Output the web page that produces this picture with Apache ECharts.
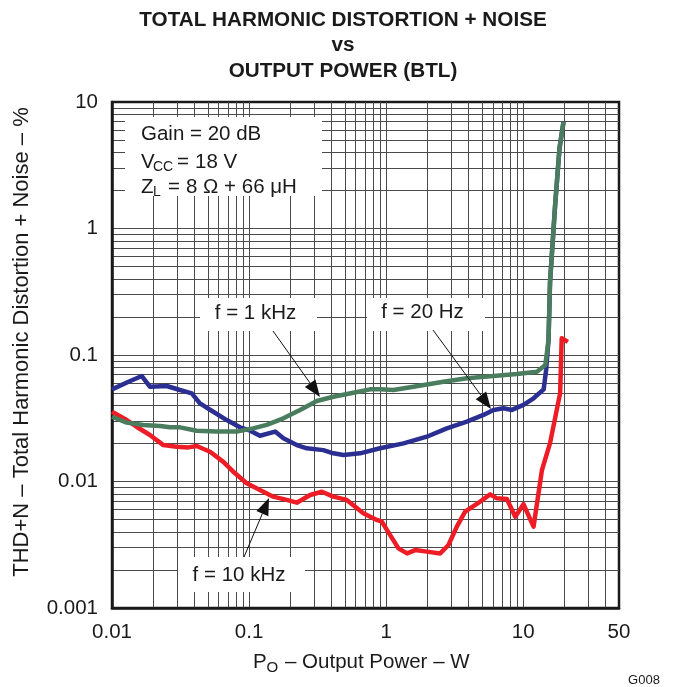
<!DOCTYPE html>
<html><head><meta charset="utf-8">
<script src="https://cdn.jsdelivr.net/npm/echarts@6/dist/echarts.min.js"></script>
<style>html,body{margin:0;padding:0;background:#fff}#c{width:673px;height:687px}</style>
</head><body><div id="c"></div>
<script>
// ---- tick labels ----
const xTickValues = [0.01, 0.1, 1, 10, 50];
const xTickLabels = ['0.01', '0.1', '1', '10', '50'];
const yTickValues = [0.001, 0.01, 0.1, 1, 10];
const yTickLabels = ['0.001', '0.01', '0.1', '1', '10'];

// ---- f = 20 Hz (blue) ----
const p20Hz = [0.01, 0.0132, 0.0165, 0.0189, 0.0251, 0.0313, 0.0382, 0.0438, 0.0548, 0.0687, 0.0859, 0.102, 0.120, 0.155, 0.178, 0.223, 0.264, 0.348, 0.412, 0.488, 0.645, 0.903, 1.34, 1.98, 2.77, 3.88, 5.13, 6.07, 7.18, 8.27, 10.05, 11.9, 14.1, 14.7, 15.3, 15.7, 17.1, 18.4, 19.7];
const thd20Hz = [0.0535, 0.0615, 0.0682, 0.0562, 0.0569, 0.0529, 0.0498, 0.0415, 0.0356, 0.0306, 0.0268, 0.0252, 0.0230, 0.0248, 0.0220, 0.0194, 0.0183, 0.0177, 0.0167, 0.0162, 0.0167, 0.0183, 0.0200, 0.0226, 0.0263, 0.0297, 0.0336, 0.0368, 0.0379, 0.0368, 0.0403, 0.0455, 0.0535, 0.0761, 0.131, 0.379, 1.53, 4.3, 6.99];

// ---- f = 1 kHz (green) ----
const p1kHz = [0.01, 0.0128, 0.0169, 0.0224, 0.0265, 0.0313, 0.0415, 0.058, 0.0813, 0.107, 0.1345, 0.178, 0.2355, 0.312, 0.412, 0.577, 0.764, 0.903, 1.13, 1.58, 2.62, 3.88, 6.07, 8.99, 12.6, 14.5, 15.3, 15.7, 17.1, 18.4, 19.7];
const thd1kHz = [0.0325, 0.0292, 0.0280, 0.0275, 0.0268, 0.0268, 0.0252, 0.0248, 0.0248, 0.0263, 0.0280, 0.0316, 0.0368, 0.0433, 0.0468, 0.0503, 0.0535, 0.0535, 0.0529, 0.0562, 0.0615, 0.0654, 0.0682, 0.0708, 0.0738, 0.0834, 0.131, 0.379, 1.53, 4.3, 6.99];

// ---- f = 10 kHz (red) ----
const p10kHz = [0.01, 0.0128, 0.0151, 0.0189, 0.0237, 0.0296, 0.0361, 0.0415, 0.0519, 0.0649, 0.0767, 0.0961, 0.120, 0.150, 0.188, 0.223, 0.279, 0.340, 0.412, 0.516, 0.682, 0.855, 0.931, 1.07, 1.23, 1.42, 1.63, 1.98, 2.48, 2.85, 3.28, 3.77, 4.59, 5.74, 6.43, 7.60, 8.75, 10.05, 11.9, 13.7, 15.7, 18.6, 19.1, 21.2];
const thd10kHz = [0.0356, 0.0306, 0.0271, 0.0233, 0.0194, 0.0188, 0.0186, 0.0191, 0.0172, 0.0143, 0.01195, 0.00968, 0.00857, 0.00759, 0.00715, 0.0068, 0.00782, 0.0083, 0.00759, 0.00715, 0.00561, 0.00497, 0.00481, 0.00377, 0.00296, 0.0027, 0.00287, 0.00279, 0.0027, 0.00315, 0.0044, 0.00577, 0.00664, 0.00792, 0.00736, 0.00727, 0.00527, 0.00661, 0.0044, 0.0123, 0.0201, 0.050, 0.1355, 0.127];

const FONT = "'Liberation Sans', Arial, Helvetica, sans-serif";
const TXT = '#1a1a1a';

function zip(xs, ys) { return xs.map((x, i) => [x, ys[i]]); }
function gridValues(e0, e1, max) {
  const out = [];
  for (let e = e0; e <= e1; e++) {
    for (let m = 1; m < 10; m++) {
      const v = Number((m * Math.pow(10, e)).toPrecision(6));
      if (v <= max) out.push(v);
    }
  }
  return out;
}
const xGrid = gridValues(-2, 1, 50).filter(v => v > 0.01 && v < 50);
const yGrid = gridValues(-3, 0, 10).filter(v => v > 0.001 && v < 10);

function text(x, y, str, size, opts) {
  opts = opts || {};
  return {
    type: 'text', x: x, y: y, z: 60, rotation: opts.rotation || 0,
    style: {
      text: str, fill: TXT,
      font: (opts.bold ? 'bold ' : '') + size + 'px ' + FONT,
      align: opts.align || 'left', textAlign: opts.align || 'left',
      verticalAlign: 'middle', textVerticalAlign: 'middle'
    }
  };
}
function box(x, y, w, h) {
  return { type: 'rect', z: 55, shape: { x: x, y: y, width: w, height: h }, style: { fill: '#fff' } };
}
function arrow(x1, y1, x2, y2) {
  const dx = x2 - x1, dy = y2 - y1, L = Math.hypot(dx, dy);
  const ux = dx / L, uy = dy / L, px = -uy, py = ux;
  const hl = 17, hw = 6.5;
  const bx = x2 - ux * hl, by = y2 - uy * hl;
  return [
    { type: 'line', z: 60, shape: { x1: x1, y1: y1, x2: bx, y2: by }, style: { stroke: '#111', lineWidth: 1 } },
    { type: 'polygon', z: 60, shape: { points: [[x2, y2], [bx + px * hw, by + py * hw], [bx - px * hw, by - py * hw]] }, style: { fill: '#111' } }
  ];
}

const elements = [
  text(343, 20, 'TOTAL HARMONIC DISTORTION + NOISE', 20.7, { bold: true, align: 'center' }),
  text(343, 45.5, 'vs', 20.7, { bold: true, align: 'center' }),
  text(343, 71, 'OUTPUT POWER (BTL)', 20.7, { bold: true, align: 'center' }),
  // y axis title
  text(22, 342, 'THD+N \u2013 Total Harmonic Distortion + Noise \u2013 %', 22, { align: 'center', rotation: Math.PI / 2 }),
  // x axis title
  text(253, 662, 'P', 20.5),
  text(266.5, 668, 'O', 15),
  text(285, 662, '\u2013 Output Power \u2013 W', 20.5),
  text(644, 680, 'G008', 13, { align: 'center' }),
  // parameter box
  box(125, 117, 197, 79),
  text(141, 134, 'Gain = 20 dB', 20.5),
  text(141, 162, 'V', 20.5),
  text(153, 167.5, 'CC', 14),
  text(177, 162, '=', 20.5),
  text(195, 162, '18 V', 20.5),
  text(141, 187, 'Z', 20.5),
  text(153, 192.5, 'L', 14),
  text(168, 187, '=', 20.5),
  text(186, 187, '8 \u03A9 + 66 \u03BCH', 20.5),
  // series labels
  box(200, 298, 117, 33),
  text(255.5, 313, 'f = 1 kHz', 20.5, { align: 'center' }),
  box(367, 298, 118, 33),
  text(422.5, 312, 'f = 20 Hz', 20.5, { align: 'center' }),
  box(178, 557, 127, 35),
  text(239, 575, 'f = 10 kHz', 20.5, { align: 'center' })
].concat(arrow(273, 331, 320, 397), arrow(433, 330, 491, 409), arrow(244, 557, 269, 498));

const gridLine = { show: true, lineStyle: { color: '#4a4a4a', width: 1 } };

const option = {
  animation: false,
  backgroundColor: '#fff',
  grid: { left: 112, top: 102, width: 507, height: 506, show: true, borderColor: '#1a1a1a', borderWidth: 2.5, backgroundColor: 'transparent', containLabel: false },
  xAxis: {
    type: 'log', logBase: 10, min: 0.01, max: 50,
    axisLine: { show: true, onZero: false, lineStyle: { color: '#1a1a1a', width: 2.5 } },
    axisTick: { show: false, customValues: xGrid },
    splitLine: gridLine,
    minorSplitLine: { show: false },
    axisLabel: {
      customValues: xTickValues, margin: 14, color: TXT, fontSize: 20.5, fontFamily: FONT,
      showMinLabel: true, showMaxLabel: true, hideOverlap: false,
      formatter: v => { const i = xTickValues.findIndex(t => Math.abs(t - v) / t < 1e-6); return i >= 0 ? xTickLabels[i] : ''; }
    }
  },
  yAxis: {
    type: 'log', logBase: 10, min: 0.001, max: 10,
    axisLine: { show: true, onZero: false, lineStyle: { color: '#1a1a1a', width: 2.5 } },
    axisTick: { show: false, customValues: yGrid },
    splitLine: gridLine,
    axisLabel: {
      customValues: yTickValues, margin: 14, color: TXT, fontSize: 20.5, fontFamily: FONT,
      showMinLabel: true, showMaxLabel: true, hideOverlap: false,
      formatter: v => { const i = yTickValues.findIndex(t => Math.abs(t - v) / t < 1e-6); return i >= 0 ? yTickLabels[i] : ''; }
    }
  },
  series: [
    { name: 'f = 10 kHz', type: 'line', data: zip(p10kHz, thd10kHz), showSymbol: false, symbol: 'none', z: 3,
      lineStyle: { color: '#ee1c25', width: 4.5, join: 'round', cap: 'butt' } },
    { name: 'f = 20 Hz', type: 'line', data: zip(p20Hz, thd20Hz), showSymbol: false, symbol: 'none', z: 3,
      lineStyle: { color: '#2b2f92', width: 4.5, join: 'round' } },
    { name: 'f = 1 kHz', type: 'line', data: zip(p1kHz, thd1kHz), showSymbol: false, symbol: 'none', z: 4,
      lineStyle: { color: '#4a7c5e', width: 4.5, join: 'round' } }
  ],
  graphic: { elements: elements }
};
const chart = echarts.init(document.getElementById('c'));
chart.setOption(option);
</script>
</body></html>
